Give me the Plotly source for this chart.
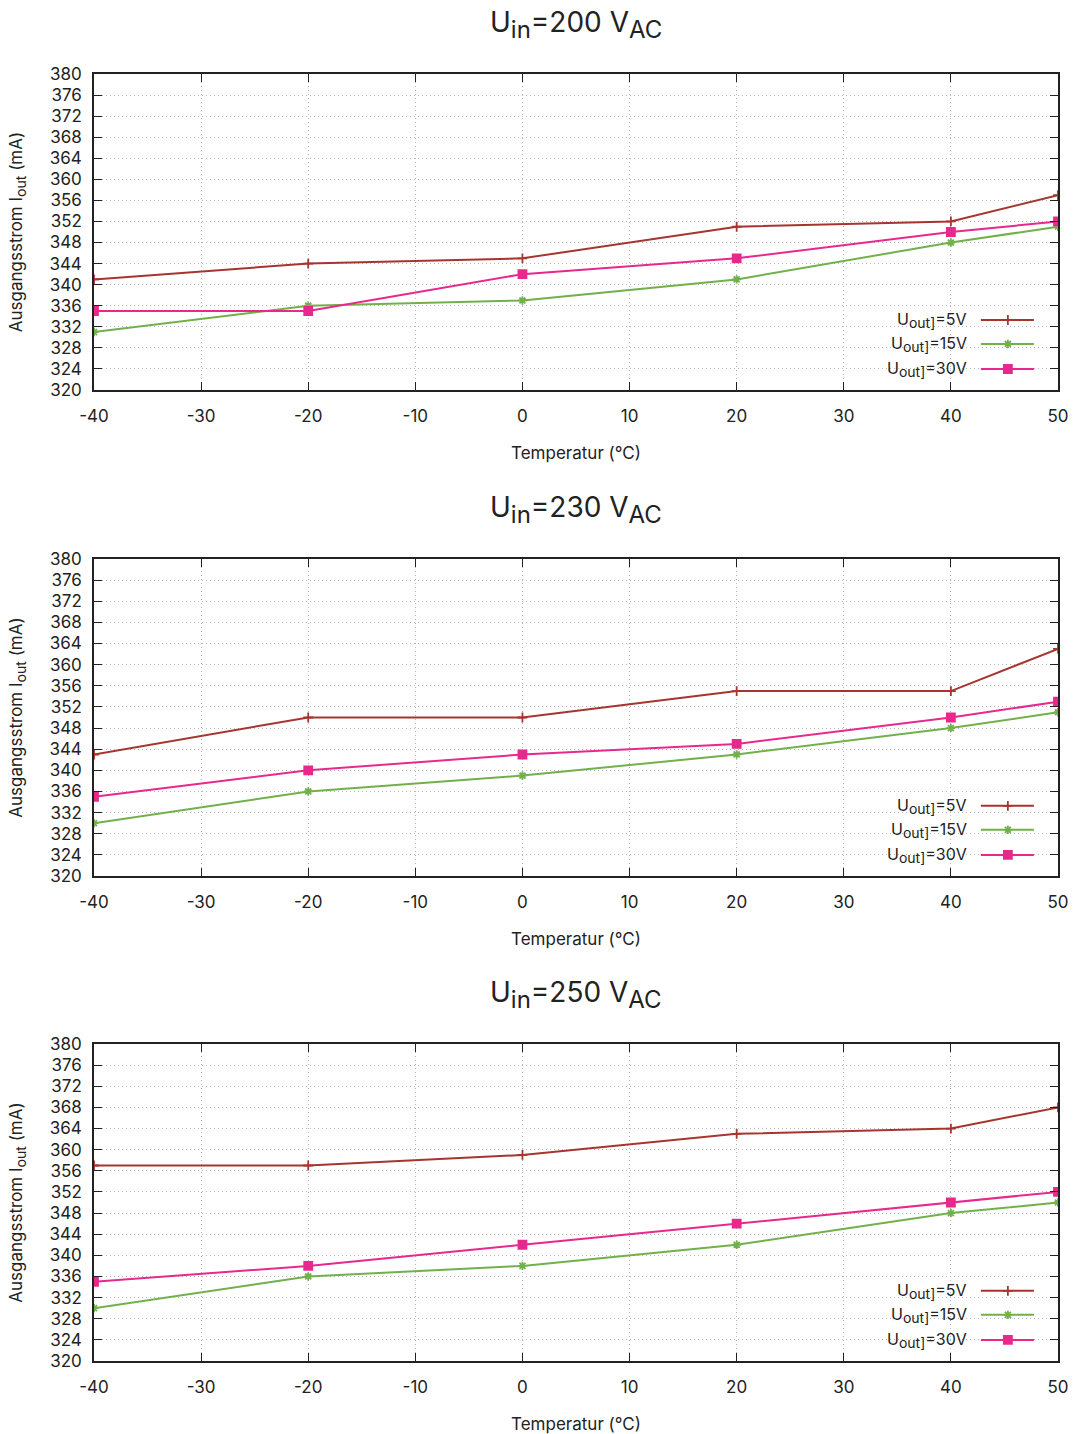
import plotly.graph_objects as go

temps = [-40, -20, 0, 20, 40, 50]
voltages_in = ["200", "230", "250"]
voltages_out = ["5V", "15V", "30V"]

i_200_5v = [341, 344, 345, 351, 352, 357]
i_200_15v = [331, 336, 337, 341, 348, 351]
i_200_30v = [335, 335, 342, 345, 350, 352]

i_230_5v = [343, 350, 350, 355, 355, 363]
i_230_15v = [330, 336, 339, 343, 348, 351]
i_230_30v = [335, 340, 343, 345, 350, 353]

i_250_5v = [357, 357, 359, 363, 364, 368]
i_250_15v = [330, 336, 338, 342, 348, 350]
i_250_30v = [335, 338, 342, 346, 350, 352]

panels = [
    [i_200_5v, i_200_15v, i_200_30v],
    [i_230_5v, i_230_15v, i_230_30v],
    [i_250_5v, i_250_15v, i_250_30v],
]

x_ticks = [-40, -30, -20, -10, 0, 10, 20, 30, 40, 50]
y_ticks = list(range(320, 381, 4))


def sub(txt, size):
    return f'<sub><span style="font-size:{size}px">{txt}</span></sub>'


panel_titles = [f"U{sub('in', 24)}={v} V{sub('AC', 24)}" for v in voltages_in]
series_names = [f"U{sub('out]', 14)}={v}" for v in voltages_out]
ytitle = f"Ausgangsstrom I{sub('out', 14)} (mA)"

colors = ["#a6352f", "#72b04b", "#e8288c"]
symbols = ["cross-thin-open", "asterisk-open", "square"]
msizes = [7, 7, 8]

FONT = "Inter"
W, H = 1075, 1434
ml, mr, mt, mb = 94, 17, 74, 73
plot_h = H - mt - mb
panel_px = [(74, 390), (559, 876), (1044, 1361)]
domains = []
for top, bot in panel_px:
    domains.append([1 - (bot - mt) / plot_h, 1 - (top - mt) / plot_h])

fig = go.Figure()
layout = dict(
    template="none",
    width=W, height=H,
    margin=dict(l=ml, r=mr, t=mt, b=mb, autoexpand=False),
    plot_bgcolor="white", paper_bgcolor="white",
    font=dict(family=FONT, size=16, color="#222"),
    showlegend=False,
)
annotations = []

leg_x_text = 0.9077
leg_x0, leg_x1, leg_xm = 0.920, 0.975, 0.948
leg_rows = [0.2215, 0.1456, 0.0665]

for p, data in enumerate(panels):
    n = p + 1
    xa = "x" if n == 1 else f"x{n}"
    ya = "y" if n == 1 else f"y{n}"
    xk = "xaxis" if n == 1 else f"xaxis{n}"
    yk = "yaxis" if n == 1 else f"yaxis{n}"
    for s in range(3):
        fig.add_trace(go.Scatter(
            x=temps, y=data[s], mode="lines+markers", xaxis=xa, yaxis=ya,
            line=dict(color=colors[s], width=2),
            marker=dict(symbol=symbols[s], size=msizes[s], color=colors[s],
                        line=dict(color=colors[s], width=1.8)),
            name=series_names[s],
        ))
    layout[xk] = dict(
        domain=[0, 1], anchor=ya, range=[-40, 50], automargin=False,
        tickvals=x_ticks, ticktext=[str(v) for v in x_ticks],
        ticks="inside", ticklen=8, tickcolor="#222", mirror="allticks",
        showline=True, linecolor="#222", linewidth=1.5,
        showgrid=True, gridcolor="#b8b8b8", griddash="1px,3px", gridwidth=1,
        zeroline=False, tickfont=dict(size=17), ticklabelstandoff=10,
        title=dict(text="Temperatur (°C)", font=dict(size=17), standoff=22),
    )
    layout[yk] = dict(
        domain=domains[p], anchor=xa, range=[320, 380], automargin=False,
        tickvals=y_ticks, ticks="inside", ticklen=8, tickcolor="#222", mirror="allticks",
        showline=True, linecolor="#222", linewidth=1.5,
        showgrid=True, gridcolor="#b8b8b8", griddash="1px,3px", gridwidth=1,
        zeroline=False, tickfont=dict(size=17), ticklabelstandoff=7,
        title=dict(text=ytitle, font=dict(size=17), standoff=22),
    )
    lx = f"x{n + 3}"
    ly = f"y{n + 3}"
    layout[f"xaxis{n + 3}"] = dict(domain=[0, 1], anchor=ly, overlaying=xa, range=[0, 1],
                                    visible=False, fixedrange=True, automargin=False)
    layout[f"yaxis{n + 3}"] = dict(domain=domains[p], anchor=lx, overlaying=ya, range=[0, 1],
                                    visible=False, fixedrange=True, automargin=False)
    for s in range(3):
        fig.add_trace(go.Scatter(
            x=[leg_x0, leg_xm, leg_x1], y=[leg_rows[s]] * 3, mode="lines",
            xaxis=lx, yaxis=ly, line=dict(color=colors[s], width=2), hoverinfo="skip",
        ))
        fig.add_trace(go.Scatter(
            x=[leg_xm], y=[leg_rows[s]], mode="markers", xaxis=lx, yaxis=ly,
            marker=dict(symbol=symbols[s], size=msizes[s], color=colors[s],
                        line=dict(color=colors[s], width=1.8)), hoverinfo="skip",
        ))
        annotations.append(dict(
            x=leg_x_text, y=leg_rows[s], xref=lx, yref=ly, text=series_names[s],
            showarrow=False, xanchor="right", yanchor="middle", font=dict(size=16),
        ))
    annotations.append(dict(
        x=0.5, y=domains[p][1], xref="paper", yref="paper", text=panel_titles[p],
        showarrow=False, xanchor="center", yanchor="bottom", yshift=28,
        font=dict(size=28),
    ))

layout["annotations"] = annotations
fig.update_layout(**layout)
fig.write_html("out.html", config={"displayModeBar": False})
